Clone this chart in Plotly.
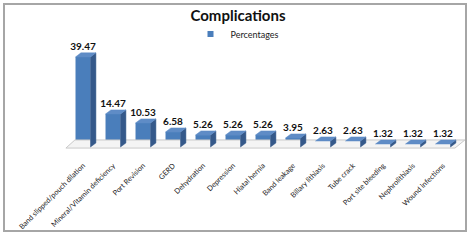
import plotly.graph_objects as go

categories = ["Band slipped/pouch dilation", "Mineral/Vitamin deficiency", "Port Revision",
              "GERD", "Dehydration", "Depression", "Hiatal hernia", "Band leakage",
              "Biliary lithiasis", "Tube crack", "Port site bleeding", "Nephrolithiasis",
              "Wound infections"]
values = [39.47, 14.47, 10.53, 6.58, 5.26, 5.26, 5.26, 3.95, 2.63, 2.63, 1.32, 1.32, 1.32]
labels = [f"{v:.2f}" for v in values]

# 3D look parameters (category units / value units)
W = 0.5
DX = 0.18
DY = 1.8

xs = list(range(len(categories)))

side_x, side_y, top_x, top_y = [], [], [], []
for i, v in zip(xs, values):
    r = i + W / 2
    l = i - W / 2
    side_x += [r, r + DX, r + DX, r, r, None]
    side_y += [0, DY, v + DY, v, 0, None]
    top_x += [l, l + DX, r + DX, r, l, None]
    top_y += [v, v + DY, v + DY, v, v, None]

fig = go.Figure()

# floor
n = len(categories)
fig.add_trace(go.Scatter(
    x=[-0.57, n - 0.6, n - 0.6 + 0.33, -0.57 + 0.3, -0.57],
    y=[-0.45, -0.45, 3.1, 3.1, -0.45],
    fill="toself", fillcolor="#f4f4f4", mode="lines",
    line=dict(color="#c9c9c9", width=1), showlegend=False, hoverinfo="skip"))

fig.add_trace(go.Scatter(x=side_x, y=side_y, fill="toself", fillcolor="#35598a",
                         mode="lines", line=dict(color="#35598a", width=0.5),
                         showlegend=False, hoverinfo="skip"))
fig.add_trace(go.Scatter(x=top_x, y=top_y, fill="toself", fillcolor="#5f8cc6",
                         mode="lines", line=dict(color="#5f8cc6", width=0.5),
                         showlegend=False, hoverinfo="skip"))
fig.add_trace(go.Bar(x=xs, y=values, width=W, name="Percentages", showlegend=False,
                     marker=dict(color="#4a7ebb", line=dict(width=0))))
# legend entry with a small square marker
fig.add_trace(go.Scatter(x=[None], y=[None], mode="markers", name="Percentages",
                         marker=dict(symbol="square", size=6, color="#4a7ebb"),
                         showlegend=True))
fig.add_trace(go.Scatter(x=xs, y=[v + DY for v in values], mode="text", text=labels,
                         textposition="top center",
                         textfont=dict(family="Lato", size=10, color="#111111", weight="bold"),
                         showlegend=False, cliponaxis=False, hoverinfo="skip"))

fig.update_layout(
    template="none",
    width=471, height=245,
    margin=dict(l=60, r=4, t=40, b=95, autoexpand=False),
    paper_bgcolor="white", plot_bgcolor="white",
    font=dict(family="Lato", color="#222222"),
    title=dict(text="<b>Complications</b>", x=(238 - 60) / 407, xref="paper",
               y=1 - 16 / 245, yanchor="middle", xanchor="center",
               font=dict(family="Lato", size=15, color="#111111")),
    legend=dict(orientation="h", x=(237 - 60) / 407, xanchor="center",
                y=(150 - 34) / 110, yanchor="middle", font=dict(size=9),
                itemwidth=30, bgcolor="rgba(0,0,0,0)", itemsizing="trace"),
    xaxis=dict(range=[-0.767, 12.8], tickvals=xs, ticktext=categories, tickangle=-45,
               showgrid=False, zeroline=False, showline=False, ticks="",
               automargin=False, ticklabelstandoff=9,
               tickfont=dict(size=7.3, family="Lato", color="#222222")),
    yaxis=dict(range=[-1.3, 46.9], visible=False, showgrid=False, zeroline=False,
               automargin=False),
    showlegend=True,
    shapes=[dict(type="rect", xref="paper", yref="paper",
                 x0=(4 - 60) / 407, x1=(466 - 60) / 407,
                 y0=(150 - 231) / 110, y1=(150 - 4) / 110,
                 line=dict(color="#a6a6a6", width=2), fillcolor="rgba(0,0,0,0)",
                 layer="below")],
)

fig.write_html("out.html", config={"displayModeBar": False},
               post_script="document.body.style.margin='0';document.body.style.overflow='hidden';")
